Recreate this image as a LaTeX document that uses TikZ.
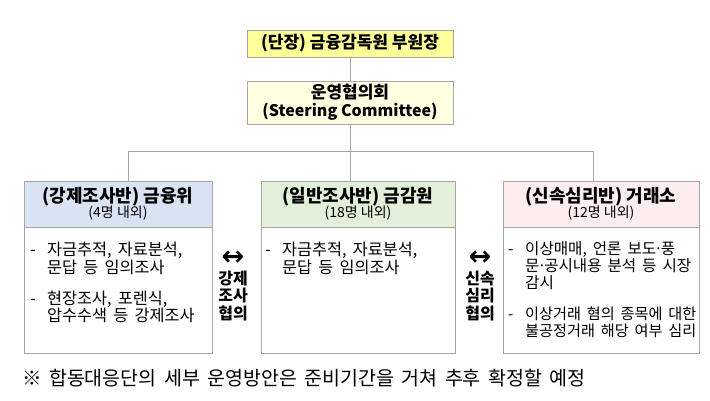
\documentclass[tikz,border=0pt]{standalone}
\usepackage{fontspec}
\setmainfont{Noto Sans CJK KR}
\newfontfamily\krw{Noto Sans CJK KR}[WordSpace=1.7]
\newfontfamily\symfont{DejaVu Sans}
\definecolor{bordergray}{HTML}{A6A6A6}
\definecolor{topyellow}{HTML}{FFFF99}
\definecolor{steeryellow}{HTML}{FFFFE1}
\definecolor{hblue}{HTML}{DAE3F3}
\definecolor{hgreen}{HTML}{E2F0D9}
\definecolor{hpink}{HTML}{FDEDED}
\tikzset{
  box/.style={draw=bordergray, line width=0.8pt, inner sep=0pt},
  conn/.style={draw=bordergray, line width=0.8pt},
  ttl/.style={font=\bfseries\fontsize{17}{18}\selectfont, align=center},
  head/.style={box, minimum height=46pt, align=center},
  bodybox/.style={box, minimum height=126pt},
  item/.style={anchor=west, inner sep=0pt, align=left, font=\krw\fontsize{16.3}{17.5}\selectfont},
  itemr/.style={item, font=\krw\fontsize{15.6}{17}\selectfont},
  itemrr/.style={item, font=\krw\fontsize{15.2}{17}\selectfont},
  coop/.style={inner sep=0pt, align=center, font=\bfseries\fontsize{16}{17.5}\selectfont},
  dblarrow/.style={inner sep=0pt, font=\symfont\bfseries\fontsize{27}{27}\selectfont},
}
\newcommand{\hd}[2]{{\bfseries\fontsize{18}{16}\selectfont #1}\\[-1pt]{\fontsize{14}{14}\selectfont #2}}
\newcommand{\dsh}{\makebox[17pt][l]{-}}
\newcommand{\ind}{\hspace*{17pt}}
\newcommand{\md}{\makebox[0.3em]{·}}
\begin{document}
\begin{tikzpicture}[x=1pt,y=-1pt]
\useasboundingbox (0,0) rectangle (710,401);
% top boxes
\node[box, fill=topyellow, minimum width=206pt, minimum height=27pt, ttl] (top) at (350,43.5) {(단장) 금융감독원 부원장};
\node[box, fill=steeryellow, minimum width=206pt, minimum height=43pt, ttl] (steer) at (350,102.5) {운영협의회\\{\fontsize{16}{18}\selectfont (Steering Committee)}};
% team boxes
\node[head, fill=hblue, minimum width=188pt] (lhead) at (118,204) {\hd{(강제조사반) 금융위}{(4명 내외)}};
\node[bodybox, minimum width=188pt, anchor=north] (lbody) at (lhead.south) {};
\node[head, fill=hgreen, minimum width=194pt] (mhead) at (358,204) {\hd{(일반조사반) 금감원}{(18명 내외)}};
\node[bodybox, minimum width=194pt, anchor=north] (mbody) at (mhead.south) {};
\node[head, fill=hpink, minimum width=196pt] (rhead) at (601,204) {\hd{(신속심리반) 거래소}{(12명 내외)}};
\node[bodybox, minimum width=196pt, anchor=north] (rbody) at (rhead.south) {};
% separators
\draw[bordergray, line width=0.8pt, dotted] (lhead.south west) -- (lhead.south east);
\draw[bordergray, line width=0.8pt] (mhead.south west) -- (mhead.south east);
\draw[bordergray, line width=0.8pt, dotted] (rhead.south west) -- (rhead.south east);
% connectors
\coordinate (busL) at (128,151);
\coordinate (busR) at (593,151);
\coordinate (busM) at (350,151);
\path[conn] (top.south) -- (steer.north);
\path[conn] (steer.south) -- (busM);
\path[conn] (busL) -- (busR);
\path[conn] (busL) -- (busL |- lhead.north);
\path[conn] (busM) -- (busM |- mhead.north);
\path[conn] (busR) -- (busR |- rhead.north);
% items
\node[item] (l1) at (30,258.5) {\dsh 자금추적, 자료분석,\\\ind 문답 등 임의조사};
\node[item] (l2) at (30,307) {\dsh 현장조사, 포렌식,\\\ind 압수수색 등 강제조사};
\node[item] (m1) at (265,258.5) {\dsh 자금추적, 자료분석,\\\ind 문답 등 임의조사};
\node[itemr] (r1) at (508,266) {\dsh 이상매매, 언론 보도\md 풍\\\ind 문\md 공시내용 분석 등 시장\\\ind 감시};
\node[itemrr] (r2) at (508,322.5) {\dsh 이상거래 혐의 종목에 대한\\\ind 불공정거래 해당 여부 심리};
% cooperation labels
\node[dblarrow] (a1) at (233,258) {↔};
\node[coop] (c1) at (233,296) {강제\\조사\\협의};
\node[dblarrow] (a2) at (480,258) {↔};
\node[coop] (c2) at (480,296) {신속\\심리\\협의};
% footer
\node[anchor=west, inner sep=0pt, font=\krw\fontsize{19.5}{20}\selectfont] (note) at (22,378) {※ 합동대응단의 세부 운영방안은 준비기간을 거쳐 추후 확정할 예정};
\end{tikzpicture}
\end{document}
